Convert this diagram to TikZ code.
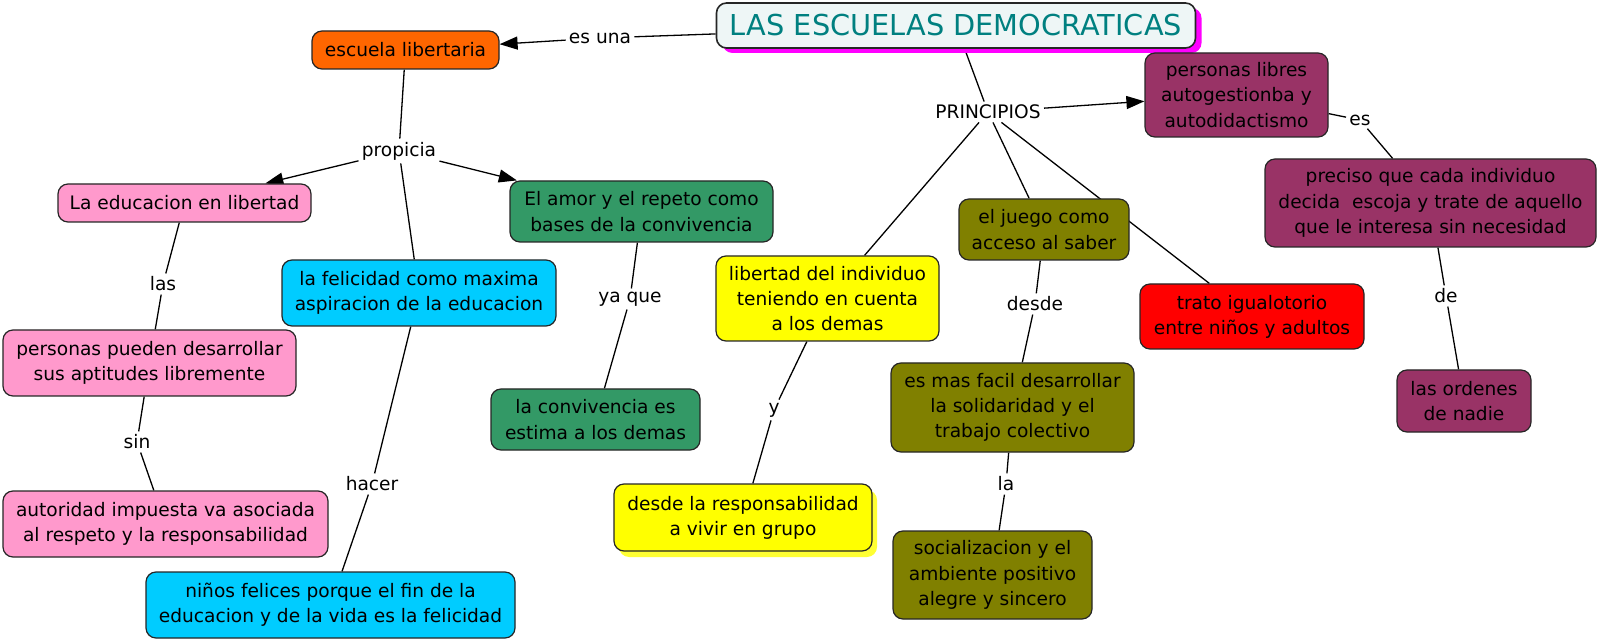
\documentclass[tikz,border=0pt]{standalone}
\usepackage{fontspec}
\setmainfont{DejaVu Sans}
\usepackage{xcolor}
\usepackage{tikz}
\usetikzlibrary{arrows.meta, backgrounds, shadows}
\definecolor{titleteal}{HTML}{008080}
\definecolor{titlebg}{HTML}{EEF6F6}
\definecolor{titleshadow}{HTML}{FF00FF}
\definecolor{orangebox}{HTML}{FF6600}
\definecolor{pinkbox}{HTML}{FF99CC}
\definecolor{cyanbox}{HTML}{00CCFF}
\definecolor{greenbox}{HTML}{339966}
\definecolor{yellowbox}{HTML}{FFFF00}
\definecolor{olivebox}{HTML}{808000}
\definecolor{redbox}{HTML}{FF0000}
\definecolor{plumbox}{HTML}{993366}
\newcommand{\mapsize}{\fontsize{9.3}{12.6}\selectfont}

\begin{document}
\begin{tikzpicture}[x=0.5pt, y=-0.5pt,
    concept/.style={draw=black!85, line width=0.6pt, rounded corners=5pt,
                    align=center, font=\mapsize, inner sep=2pt},
    boxsize/.style 2 args={minimum width=#1, minimum height=#2},
    linkword/.style={font=\mapsize, inner sep=1.5pt},
    link/.style={line width=0.65pt},
    linkarrow/.style={link, -{Triangle[length=9pt, width=6.5pt]}}]
    \useasboundingbox (0,0) rectangle (1600,641);

    \node[concept, fill=titlebg, line width=0.8pt, boxsize={239.5pt}{22.5pt},
          font=\fontsize{14.4}{16}\selectfont, text=titleteal,
          drop shadow={shadow xshift=3pt, shadow yshift=-2.5pt, fill=titleshadow, opacity=1}]
          (title) at (956,25.5) {LAS ESCUELAS DEMOCRATICAS};

    % left branch
    \node[concept, fill=orangebox, boxsize={93.5pt}{19pt}] (escuela) at (405.5,50) {escuela libertaria};
    \node[concept, fill=pinkbox, boxsize={126.5pt}{19pt}] (educacion) at (184.5,203) {La educacion en libertad};
    \node[concept, fill=pinkbox, boxsize={146.5pt}{33pt}] (aptitudes) at (149.5,363)
          {personas pueden desarrollar\\sus aptitudes libremente};
    \node[concept, fill=pinkbox, boxsize={162.5pt}{33pt}] (autoridad) at (165.5,524)
          {autoridad impuesta va asociada\\al respeto y la responsabilidad};
    \node[concept, fill=greenbox, boxsize={131.5pt}{30.5pt}] (amor) at (641.5,211.5)
          {El amor y el repeto como\\bases de la convivencia};
    \node[concept, fill=greenbox, boxsize={104.5pt}{30.5pt}] (convivencia) at (595.5,419.5)
          {la convivencia es\\estima a los demas};
    \node[concept, fill=cyanbox, boxsize={137pt}{33pt}] (felicidad) at (419,293)
          {la felicidad como maxima\\aspiracion de la educacion};
    \node[concept, fill=cyanbox, boxsize={184.5pt}{33pt}] (felices) at (330.5,605)
          {niños felices porque el fin de la\\educacion y de la vida es la felicidad};

    % principios
    \node[concept, fill=yellowbox, boxsize={111.5pt}{42.5pt}] (libertad) at (827.5,298.5)
          {libertad del individuo\\teniendo en cuenta\\a los demas};
    \node[concept, fill=yellowbox, boxsize={129pt}{33.5pt},
          drop shadow={shadow xshift=2.5pt, shadow yshift=-3pt, fill=yellowbox!80!white, opacity=1}]
          (grupo) at (743,517.5) {desde la responsabilidad\\a vivir en grupo};
    \node[concept, fill=olivebox, boxsize={85pt}{30.5pt}] (juego) at (1044,229.5)
          {el juego como\\acceso al saber};
    \node[concept, fill=olivebox, boxsize={121.5pt}{44.5pt}] (solidaridad) at (1012.5,407.5)
          {es mas facil desarrollar\\la solidaridad y el\\trabajo colectivo};
    \node[concept, fill=olivebox, boxsize={99.5pt}{44pt}] (socializacion) at (992.5,575)
          {socializacion y el\\ambiente positivo\\alegre y sincero};
    \node[concept, fill=redbox, boxsize={112pt}{32.5pt}] (trato) at (1252,316.5)
          {trato igualotorio\\entre niños y adultos};
    \node[concept, fill=plumbox, boxsize={91.5pt}{42pt}] (libres) at (1236.5,95)
          {personas libres\\autogestionba y\\autodidactismo};
    \node[concept, fill=plumbox, boxsize={165.5pt}{44pt}] (preciso) at (1430.5,203)
          {preciso que cada individuo\\decida\ \ escoja y trate de aquello\\que le interesa sin necesidad};
    \node[concept, fill=plumbox, boxsize={67pt}{31pt}] (ordenes) at (1464,401)
          {las ordenes\\de nadie};

    % linking words
    \node[linkword] (esuna) at (600,38) {es una};
    \node[linkword] (propicia) at (399,151) {propicia};
    \node[linkword] (las) at (163,284) {las};
    \node[linkword] (sin) at (137,442) {sin};
    \node[linkword] (yaque) at (630,299) {ya que};
    \node[linkword] (hacer) at (372,484) {hacer};
    \node[linkword] (principios) at (988,112) {PRINCIPIOS};
    \node[linkword] (ylink) at (774,410) {y};
    \node[linkword] (desde) at (1035,304) {desde};
    \node[linkword] (la) at (1006,484) {la};
    \node[linkword] (es) at (1360,120) {es};
    \node[linkword] (de) at (1446,296) {de};

    \begin{scope}[on background layer]
        \draw[link] (title) -- (esuna);
        \draw[linkarrow] (esuna) -- (escuela);
        \draw[link] (escuela) -- (propicia);
        \draw[linkarrow] (propicia) -- (educacion);
        \draw[linkarrow] (propicia) -- (amor);
        \draw[link] (propicia) -- (felicidad);
        \draw[link] (educacion) -- (las) -- (aptitudes);
        \draw[link] (aptitudes) -- (sin) -- (autoridad);
        \draw[link] (amor) -- (yaque) -- (convivencia);
        \draw[link] (felicidad) -- (hacer) -- (felices);
        \draw[link] (title) -- (principios);
        \draw[linkarrow] (principios) -- (libres);
        \draw[link] (principios) -- (libertad);
        \draw[link] (principios) -- (juego);
        \draw[link] (principios) -- (trato);
        \draw[link] (libertad) -- (ylink) -- (grupo);
        \draw[link] (juego) -- (desde) -- (solidaridad);
        \draw[link] (solidaridad) -- (la) -- (socializacion);
        \draw[link] (libres) -- (es) -- (preciso);
        \draw[link] (preciso) -- (de) -- (ordenes);
    \end{scope}
\end{tikzpicture}
\end{document}
